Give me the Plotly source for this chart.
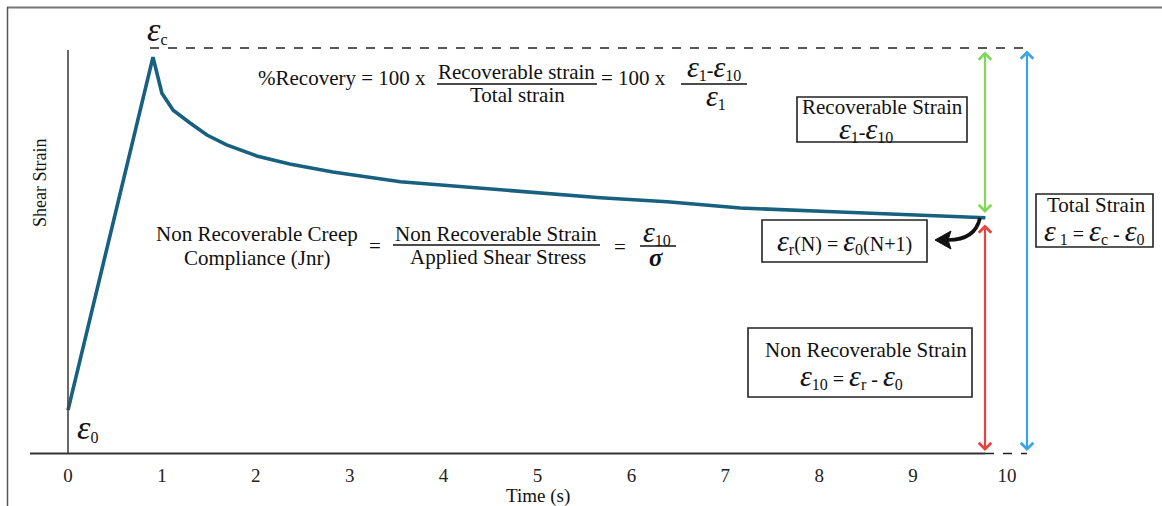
import plotly.graph_objects as go

# ---- data (time in s, shear strain in relative units) ----
time_s = [0.0, 0.905, 1.00, 1.12, 1.30, 1.48, 1.69, 2.01, 2.36, 2.82, 3.54,
          4.25, 4.95, 5.67, 6.38, 6.73, 7.16, 8.22, 9.29, 9.71, 9.77]
shear_strain = [0.101, 0.894, 0.813, 0.775, 0.746, 0.719, 0.697, 0.672, 0.654,
                0.636, 0.614, 0.602, 0.589, 0.578, 0.569, 0.562, 0.555, 0.546,
                0.537, 0.533, 0.533]
tick_vals = list(range(0, 11))
tick_text = [str(v) for v in tick_vals]

FONT = "Liberation Serif, Times New Roman, Times, serif"
INK = "#111111"
W, H = 1162, 506
L, R, T, B = 30, 132, 10, 51
PW, PH = W - L - R, H - T - B


def px(x):
    return (x - L) / PW


def py(y):
    return (H - B - y) / PH


E = '<span style="font-size:30px"><i>ε</i></span>'
EB = '<span style="font-size:34px"><i>ε</i></span>'


def S(s):
    return f'<sub><span style="font-size:16px">{s}</span></sub>'


fig = go.Figure()
fig.add_trace(go.Scatter(x=time_s, y=shear_strain, mode="lines",
                         line=dict(color="#17607f", width=3.6),
                         hoverinfo="skip", showlegend=False))

shapes = []


def line(x0, y0, x1, y1, color=INK, width=1.5, dash="solid"):
    shapes.append(dict(type="line", xref="paper", yref="paper",
                       x0=px(x0), y0=py(y0), x1=px(x1), y1=py(y1),
                       line=dict(color=color, width=width, dash=dash)))


def rect(x0, y0, x1, y1):
    shapes.append(dict(type="rect", xref="paper", yref="paper",
                       x0=px(x0), y0=py(y0), x1=px(x1), y1=py(y1),
                       line=dict(color="#222222", width=1.6)))


# outer frame (top and left)
line(7, 7.5, 1162, 7.5, color="#777777", width=2.2)
line(7.5, 7, 7.5, 506, color="#555555", width=1.5)
# axes
line(68, 50, 68, 454, color="#444444", width=1.6)
line(30, 453.5, 985, 453.5, color="#333333", width=2)
line(985, 453.5, 1027, 453.5, color="#222222", width=1.5, dash="dash")
# top dashed line at peak strain
line(150, 48, 1027, 48, color="#222222", width=1.4, dash="dash")
# fraction bars
line(437, 84, 597, 84, width=1.3)
line(681, 84, 747, 84, width=1.3)
line(393, 245, 600, 245, width=1.3)
line(640, 246, 676, 246, width=1.3)
# boxes
rect(797, 97, 967, 142)
rect(1036, 194, 1153, 247)
rect(762, 220, 927, 262)
rect(748, 328, 972, 397)
# curved black arrow
shapes.append(dict(type="path", xref="paper", yref="paper",
                   path=f"M {px(980)},{py(218)} Q {px(975)},{py(240)} {px(948)},{py(240)}",
                   line=dict(color="#111111", width=3.6)))
shapes.append(dict(type="path", xref="paper", yref="paper",
                   path=(f"M {px(935)},{py(240)} L {px(951)},{py(231)} "
                         f"L {px(948)},{py(240)} L {px(951)},{py(249)} Z"),
                   fillcolor="#111111", line=dict(color="#111111", width=1)))

annotations = []


def text(x, y, s, size=21, **kw):
    annotations.append(dict(xref="paper", yref="paper", x=px(x), y=py(y),
                            text=s, showarrow=False,
                            font=dict(family=FONT, size=size, color=INK),
                            xanchor="center", yanchor="middle", **kw))


def darrow(x, y0, y1, color):
    annotations.append(dict(xref="paper", yref="paper", x=px(x), y=py(y1),
                            axref="pixel", ayref="pixel", ax=0, ay=-(y1 - y0),
                            text="", showarrow=True, arrowhead=4, startarrowhead=4,
                            arrowside="end+start", arrowsize=1.1, startarrowsize=1.1,
                            arrowwidth=2.2, arrowcolor=color, standoff=0,
                            startstandoff=0))


darrow(985, 50, 213, "#7fd956")
darrow(985, 223, 451, "#e8423d")
darrow(1027, 49, 451, "#3ba4e4")

text(157, 29, f"{EB}{S('c')}", size=21)
text(87, 427, f"{EB}{S('0')}", size=21)
text(40, 183, "Shear Strain", size=18, textangle=-90)

text(342, 78, "%Recovery = 100 x")
text(516, 72, "Recoverable strain")
text(517, 95, "Total strain")
text(633, 78, "= 100 x")
text(714, 67, f"{E}{S('1')}-{E}{S('10')}", size=20)
text(716, 96, f"{E}{S('1')}", size=20)

text(257, 234, "Non Recoverable Creep")
text(257, 258, "Compliance (Jnr)")
text(375, 246, "=")
text(496, 234, "Non Recoverable Strain")
text(498, 257, "Applied Shear Stress")
text(620, 247, "=")
text(657, 232, f"{E}{S('10')}", size=20)
text(656, 257, '<b><i>σ</i></b>', size=25)

text(882, 107, "Recoverable Strain")
text(866, 129, f"{E}{S('1')}-{E}{S('10')}", size=20)
text(1096, 205, "Total Strain")
text(1094, 231, f"{E}{S(' 1')} = {E}{S('c')} - {E}{S('0')}", size=20)
text(844, 241, f"{E}{S('r')}(N) = {E}{S('0')}(N+1)", size=20)
text(866, 350, "Non Recoverable Strain")
text(851, 376, f"{E}{S('10')} = {E}{S('r')} - {E}{S('0')}", size=20)

text(538, 496, "Time (s)", size=19)

x_lo = (L - 68) / 93.9
x_hi = (W - R - 68) / 93.9

fig.update_layout(
    width=W, height=H,
    margin=dict(l=L, r=R, t=T, b=B),
    paper_bgcolor="white", plot_bgcolor="white",
    showlegend=False,
    xaxis=dict(range=[x_lo, x_hi], tickvals=tick_vals, ticktext=tick_text,
               showgrid=False, zeroline=False, showline=False, ticks="",
               ticklabelstandoff=7,
               tickfont=dict(family=FONT, size=19, color="#222222")),
    yaxis=dict(range=[0, 1], showgrid=False, zeroline=False, showline=False,
               showticklabels=False, ticks=""),
    shapes=shapes, annotations=annotations,
)

fig.write_html("out.html")
